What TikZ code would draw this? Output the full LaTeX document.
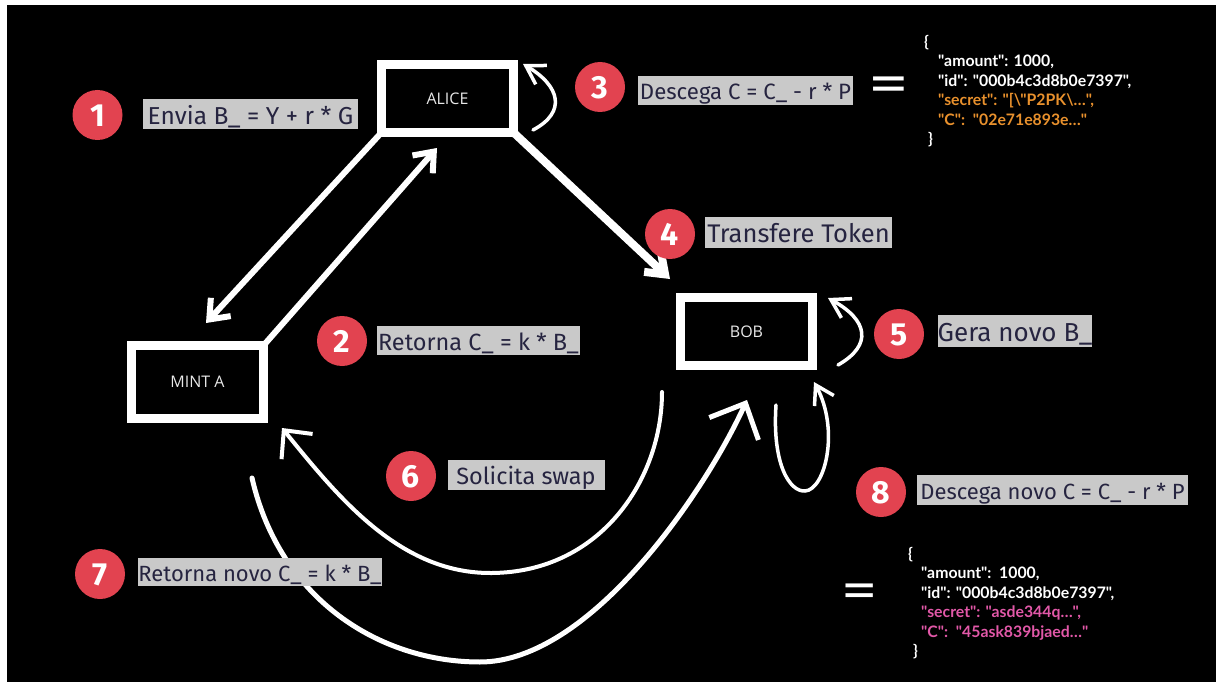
\documentclass[tikz,border=0pt]{standalone}
\usepackage{fontspec}
\setmainfont{Fira Sans}
\newfontfamily\boxfont{Open Sans}
\newfontfamily\jsonfont{Lato}
\usetikzlibrary{arrows.meta}
\definecolor{lblgray}{RGB}{201,201,201}
\definecolor{lbltext}{RGB}{38,36,64}
\definecolor{stepred}{RGB}{226,67,80}
\definecolor{jsonorange}{RGB}{233,145,45}
\definecolor{jsonpink}{RGB}{226,88,168}
\definecolor{boxtext}{RGB}{232,232,232}
\begin{document}
\begin{tikzpicture}[x=1pt,y=-1pt,
  entity/.style={draw=white, line width=9pt, fill=black, minimum width=132pt, minimum height=68pt,
    inner sep=0pt, outer sep=0pt, text=boxtext, text height=11.5pt, text depth=0pt,
    font=\boxfont\fontsize{16}{18}\selectfont},
  stepnum/.style={circle, fill=stepred, minimum size=50pt, inner sep=0pt, text=white,
    text height=23pt, text depth=0pt, font=\bfseries\fontsize{32}{32}\selectfont},
  steplbl/.style={fill=lblgray, text=lbltext, inner sep=0pt, text depth=0pt,
    font=\fontsize{#1}{#1}\selectfont, text height=#1*0.82pt},
  json/.style={text=white, inner sep=0pt, align=left, anchor=north west,
    font=\jsonfont\bfseries\fontsize{15.8}{19.4}\selectfont},
  eqsign/.style={text=white, inner sep=0pt, font=\fontsize{44}{44}\selectfont},
  cornerarrow/.style={draw=white, line width=6pt, -{Straight Barb[length=17pt,width=27pt]}},
  bigarrow/.style={draw=white, line width=8pt, -{Straight Barb[length=17pt,width=25pt]}},
  selfloop/.style={draw=white, line width=3.5pt, line cap=round, -{Straight Barb[length=18pt,width=22pt]}},
  swapa/.style={draw=white, line width=4pt, line cap=round, -{Straight Barb[length=21pt,width=40pt]}},
  swapb/.style={draw=white, line width=5pt, line cap=round, -{Straight Barb[length=28pt,width=54pt]}}
]
\useasboundingbox (0,0) rectangle (1216,682);
\fill[white] (0,0) rectangle (1216,682);
\fill[black] (7,5) rectangle (1216,682);

% entities
\node[entity] (alice) at (447.5,98.5) {ALICE};
\node[entity] (bob) at (746.5,331.5) {BOB};
\node[entity, minimum height=73pt] (mint) at (197.5,382) {MINT A};

% free ends of connectors
\coordinate (mintIn) at (206,323);
\coordinate (aliceIn) at (437,148);
\coordinate (bobIn) at (670,279);
\coordinate (aliceLoopS) at (533,130);
\coordinate (aliceLoopE) at (523,64);
\coordinate (bobLoopS) at (838,365);
\coordinate (bobLoopE) at (828,298);
\coordinate (bobOut) at (662,392);
\coordinate (mintInB) at (282,428);
\coordinate (mintOut) at (252,478);
\coordinate (bobInB) at (747,400);
\coordinate (bobLoopBS) at (776,405);
\coordinate (bobLoopBE) at (814,382);

% connectors
\draw[cornerarrow] (alice.south west) -- (mintIn);
\draw[cornerarrow] (mint.north east) -- (aliceIn);
\draw[bigarrow] (alice.south east) -- (bobIn);
\draw[selfloop] (aliceLoopS) .. controls (567,112) and (560,86) .. (aliceLoopE);
\draw[selfloop] (bobLoopS) .. controls (873,345) and (868,320) .. (bobLoopE);
\draw[swapa] (bobOut) .. controls (662,480) and (600,572) .. (492,573)
  .. controls (400,574) and (338,497) .. (mintInB);
\draw[swapb] (mintOut) .. controls (280,600) and (380,662) .. (480,662)
  .. controls (590,662) and (705,492) .. (bobInB);
\draw[selfloop] (bobLoopBS) .. controls (772,465) and (790,492) .. (805,491)
  .. controls (825,490) and (840,430) .. (bobLoopBE);

% step numbers
\node[stepnum] (n1) at (97.5,115) {1};
\node[stepnum] (n2) at (342,341) {2};
\node[stepnum] (n3) at (600,87) {3};
\node[stepnum] (n4) at (670,234) {4};
\node[stepnum] (n5) at (899,334) {5};
\node[stepnum] (n6) at (411,476) {6};
\node[stepnum] (n7) at (100,574) {7};
\node[stepnum] (n8) at (881,492) {8};

% step labels
\node[steplbl=24.5, minimum width=215pt, minimum height=30pt] (l1) at (250.5,114) {Envia B\_ = Y + r * G};
\node[steplbl=23.5, minimum width=203pt, minimum height=29pt] (l2) at (478.5,340.5) {Retorna C\_ = k * B\_};
\node[steplbl=22.2, minimum width=215pt, minimum height=29pt] (l3) at (745.5,90.5) {Descega C = C\_ - r * P};
\node[steplbl=25.5, minimum width=187pt, minimum height=31pt] (l4) at (798.5,232.5) {Transfere Token};
\node[steplbl=26, minimum width=154pt, minimum height=32pt] (l5) at (1015,331) {Gera novo B\_};
\node[steplbl=23.5, minimum width=157pt, minimum height=30pt] (l6) at (526,475) {Solicita swap};
\node[steplbl=22, minimum width=244pt, minimum height=28pt] (l7) at (260,572) {Retorna novo C\_ = k * B\_};
\node[steplbl=22, minimum width=271pt, minimum height=30pt] (l8) at (1052.5,490) {Descega novo C = C\_ - r * P};

% equal signs
\node[eqsign] (eq1) at (889,89) {\scalebox{1.85}[1.2]{=}};
\node[eqsign] (eq2) at (860,595.5) {\scalebox{1.65}[1.15]{=}};

% token JSON
\node[json] (json1) at (924,35) {\{\\
\hspace*{14pt}"amount": 1000,\\
\hspace*{14pt}"id": "000b4c3d8b0e7397",\\
\hspace*{14pt}\textcolor{jsonorange}{"secret": "[\textbackslash"P2PK\textbackslash…",}\\
\hspace*{14pt}\textcolor{jsonorange}{"C":\ \ "02e71e893e…"}\\
\hspace*{4pt}\}};
\node[json] (json2) at (908,547) {\{\\
\hspace*{13pt}"amount":\ \ 1000,\\
\hspace*{13pt}"id": "000b4c3d8b0e7397",\\
\hspace*{13pt}\textcolor{jsonpink}{"secret": "asde344q…",}\\
\hspace*{13pt}\textcolor{jsonpink}{"C":\ \ "45ask839bjaed…"}\\
\hspace*{5pt}\}};
\end{tikzpicture}
\end{document}
